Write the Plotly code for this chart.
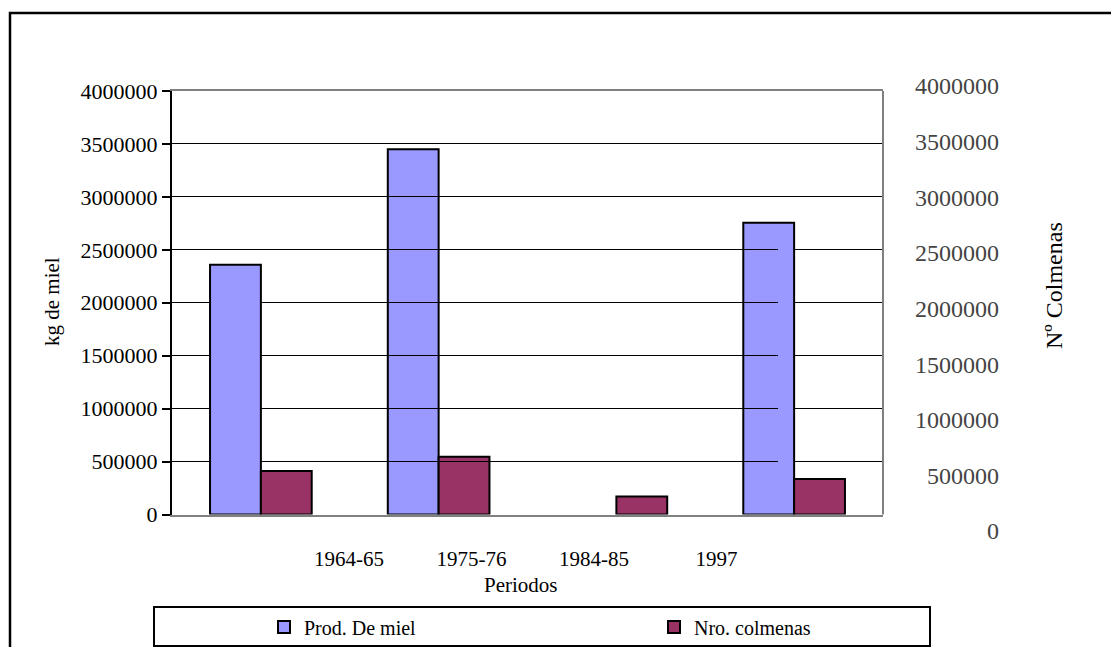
import plotly.graph_objects as go

# Data
periodos = ["1964-65", "1975-76", "1984-85", "1997"]
prod_miel = [2360000, 3450000, None, 2755000]      # kg de miel
nro_colmenas = [410000, 545000, 170000, 335000]     # número de colmenas

W, H = 1111, 647
FONT = "Liberation Serif, Times New Roman, serif"


def px_x(p):
    return p / W


def px_y(p):
    return 1 - p / H


fig = go.Figure()

fig.add_trace(go.Bar(
    x=periodos, y=prod_miel, name="Prod. De miel",
    marker=dict(color="#9999FF", line=dict(color="black", width=2)),
))
fig.add_trace(go.Bar(
    x=periodos, y=nro_colmenas, name="Nro. colmenas",
    marker=dict(color="#993366", line=dict(color="black", width=2)),
))

# carrier traces so the secondary axes get drawn
fig.add_trace(go.Scatter(
    x=[periodos[0]], y=[0], yaxis="y2", mode="markers",
    marker=dict(opacity=0), showlegend=False, hoverinfo="skip",
))
fig.add_trace(go.Scatter(
    x=periodos, y=[0] * len(periodos), xaxis="x2", mode="markers",
    marker=dict(opacity=0), showlegend=False, hoverinfo="skip",
))

# category label axis spread under the chart
lab_center0, lab_step = 349, 122.5
x2_left = lab_center0 - lab_step / 2
x2_right = x2_left + lab_step * len(periodos)

fig.update_layout(
    width=W, height=H,
    margin=dict(l=0, r=0, t=0, b=0, autoexpand=False),
    paper_bgcolor="white",
    plot_bgcolor="rgba(0,0,0,0)",
    font=dict(family=FONT, color="black", size=20),
    barmode="group",
    bargap=0.428,
    bargroupgap=0,
    showlegend=True,
    xaxis=dict(
        domain=[px_x(172), px_x(883)],
        anchor="y",
        type="category",
        categoryorder="array", categoryarray=periodos,
        range=[-0.5, len(periodos) - 0.5],
        showticklabels=False, ticks="",
        showgrid=False, zeroline=False,
        showline=True, linecolor="#808080", linewidth=2, mirror=True,
        layer="below traces",
        automargin=False,
    ),
    yaxis=dict(
        domain=[px_y(514.5), px_y(91)],
        anchor="x",
        range=[0, 4000000],
        dtick=500000,
        tickformat="d",
        showgrid=True, gridcolor="black", gridwidth=1,
        zeroline=False,
        showline=True, linecolor="black", linewidth=2,
        ticks="outside", ticklen=8, tickwidth=2, tickcolor="black",
        tickfont=dict(family=FONT, size=22),
        automargin=False,
    ),
    yaxis2=dict(
        domain=[px_y(531), px_y(86)],
        anchor="free", position=px_x(1002), side="right",
        range=[0, 4000000],
        dtick=500000,
        tickformat="d",
        ticklabelposition="inside",
        ticklabeloverflow="allow",
        showgrid=False, zeroline=False, showline=False, ticks="",
        tickfont=dict(family=FONT, size=24),
        automargin=False,
    ),
    xaxis2=dict(
        domain=[px_x(x2_left), px_x(x2_right)],
        anchor="free", position=px_y(544), side="bottom",
        type="category",
        categoryorder="array", categoryarray=periodos,
        range=[-0.5, len(periodos) - 0.5],
        showgrid=False, zeroline=False, showline=False, ticks="",
        tickfont=dict(family=FONT, size=21),
        automargin=False,
    ),
    legend=dict(
        orientation="h",
        x=px_x(264), xanchor="left",
        y=px_y(627), yanchor="middle",
        bgcolor="rgba(0,0,0,0)", borderwidth=0,
        font=dict(family=FONT, size=20),
        entrywidth=345, entrywidthmode="pixels",
        traceorder="normal",
    ),
)

shapes = [
    # right edge of the plot area
    dict(type="line", xref="x domain", yref="y domain",
         x0=1, x1=1, y0=0, y1=1, line=dict(color="#808080", width=2)),
    # outer chart frame
    dict(type="rect", xref="paper", yref="paper",
         x0=px_x(10), x1=1.02, y0=px_y(13), y1=-0.02,
         line=dict(color="black", width=2.5)),
    # legend frame
    dict(type="rect", xref="paper", yref="paper",
         x0=px_x(154), x1=px_x(930), y0=px_y(607), y1=px_y(646),
         line=dict(color="black", width=2)),
]
fig.update_layout(shapes=shapes)

annotations = [
    dict(text="kg de miel", xref="paper", yref="paper",
         x=px_x(52), y=px_y(302), textangle=-90, showarrow=False,
         font=dict(family=FONT, size=21), xanchor="center", yanchor="middle"),
    dict(text="Nº Colmenas", xref="paper", yref="paper",
         x=px_x(1054), y=px_y(286), textangle=-90, showarrow=False,
         font=dict(family=FONT, size=24), xanchor="center", yanchor="middle"),
    dict(text="Periodos", xref="paper", yref="paper",
         x=px_x(521), y=px_y(585), showarrow=False,
         font=dict(family=FONT, size=21), xanchor="center", yanchor="middle"),
]
fig.update_layout(annotations=annotations)

fig.write_html("out.html")
